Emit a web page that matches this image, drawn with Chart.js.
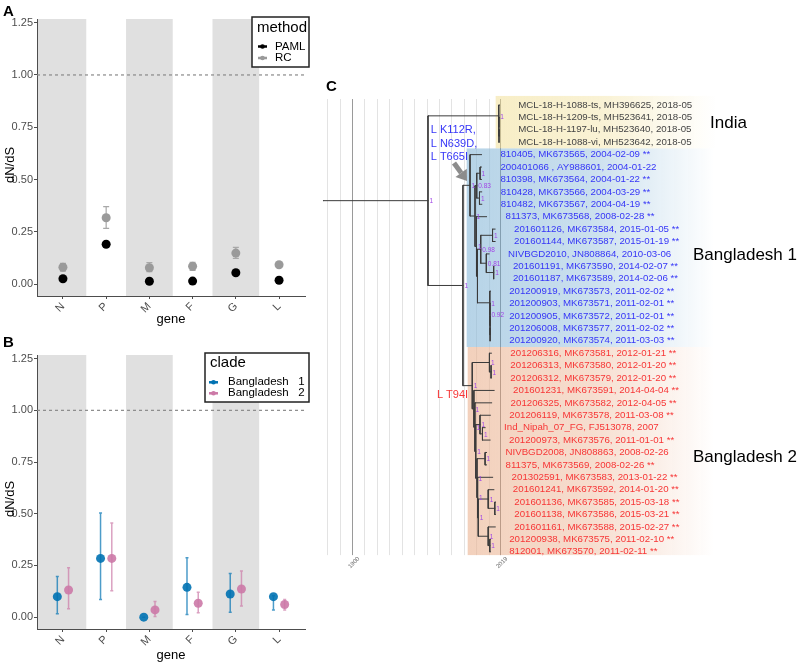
<!DOCTYPE html>
<html><head><meta charset="utf-8">
<script src="https://cdn.jsdelivr.net/npm/chart.js@4.4.1/dist/chart.umd.min.js"></script>
<style>
body{margin:0;width:799px;height:663px;background:#fff;position:relative;overflow:hidden;font-family:"Liberation Sans",Arial,sans-serif;}
.box{position:absolute;}
.plab{position:absolute;font-weight:bold;font-size:15px;color:#000;line-height:16px;}
</style></head><body>
<div class="box" style="left:0;top:0;width:320px;height:330px"><canvas id="cA" width="320" height="330"></canvas></div>
<div class="box" style="left:0;top:330px;width:320px;height:333px"><canvas id="cB" width="320" height="333"></canvas></div>
<div class="box" style="left:320px;top:60px;width:479px;height:603px"><canvas id="cC" width="479" height="603"></canvas></div>
<div class="plab" style="left:3px;top:3px">A</div>
<div class="plab" style="left:3px;top:334px">B</div>
<div class="plab" style="left:326px;top:78px">C</div>
<script>
Chart.defaults.font.family = "'Liberation Sans', Arial, sans-serif";
Chart.defaults.animation = false;
const FONT = "'Liberation Sans', Arial, sans-serif";

// ---------- Panels A & B data ----------
const genes = ["N","P","M","F","G","L"];
const yTicks = [0, 0.25, 0.5, 0.75, 1.0, 1.25];
const refLine = 1.0;
const pamlVal = [0.025, 0.190, 0.013, 0.014, 0.054, 0.018];
const rcVal   = [0.080, 0.317, 0.078, 0.085, 0.148, 0.092];
const rcLow   = [0.062, 0.266, 0.059, 0.065, 0.123, 0.086];
const rcHigh  = [0.099, 0.370, 0.102, 0.104, 0.175, 0.098];
const bd1Val  = [0.099, 0.284, 0.000, 0.144, 0.112, 0.099];
const bd1Low  = [0.016, 0.085, 0.000, 0.013, 0.024, 0.035];
const bd1High = [0.197, 0.503, 0.000, 0.287, 0.211, 0.104];
const bd2Val  = [0.131, 0.284, 0.035, 0.067, 0.136, 0.061];
const bd2Low  = [0.040, 0.128, 0.003, 0.021, 0.054, 0.035];
const bd2High = [0.239, 0.455, 0.075, 0.120, 0.223, 0.085];
const dodge = 0.13;
const bandHalf = 0.54;

function pts(vals, off){ return vals.map((v,i)=>({x:i+1+off, y:v})); }

function geneScales(){
  return {
    x:{type:'linear', min:0.4, max:6.6,
      afterBuildTicks:s=>{ s.ticks = genes.map((g,i)=>({value:i+1})); },
      afterFit:s=>{ s.height = 34; },
      ticks:{callback:v=>genes[Math.round(v)-1]||'', minRotation:45, maxRotation:45, autoSkip:false,
             color:'#4d4d4d', font:{size:11}, padding:1},
      grid:{display:true, drawOnChartArea:false, drawTicks:true, tickLength:3, color:'#4d4d4d'},
      border:{display:true, color:'#4d4d4d', width:1}},
    y:{type:'linear', min:-0.0574, max:1.2677,
      afterBuildTicks:s=>{ s.ticks = yTicks.map(v=>({value:v})); },
      afterFit:s=>{ s.width = 37; },
      ticks:{callback:v=>Number(v).toFixed(2), color:'#4d4d4d', font:{size:11}, padding:1},
      grid:{display:true, drawOnChartArea:false, drawTicks:true, tickLength:3, color:'#4d4d4d'},
      border:{display:true, color:'#4d4d4d', width:1}}
  };
}

function genePlugin(lg){
  return {
    id:'genePanel',
    beforeDraw(chart){
      const {ctx, chartArea:ca, scales:{x}} = chart;
      ctx.save(); ctx.fillStyle = '#e0e0e0';
      genes.forEach((g,i)=>{
        if (i % 2) return;
        let l = x.getPixelForValue(i+1-bandHalf), r = x.getPixelForValue(i+1+bandHalf);
        if (i === 0) l = ca.left;
        l = Math.max(l, ca.left); r = Math.min(r, ca.right);
        ctx.fillRect(l, ca.top, r-l, ca.bottom-ca.top);
      });
      ctx.restore();
    },
    beforeDatasetsDraw(chart){
      const {ctx, chartArea:ca, scales:{y}} = chart;
      ctx.save();
      const yy = y.getPixelForValue(refLine);
      ctx.strokeStyle = '#8a8a8a'; ctx.lineWidth = 1.2; ctx.setLineDash([3,3]);
      ctx.beginPath(); ctx.moveTo(ca.left, yy); ctx.lineTo(ca.right, yy); ctx.stroke();
      ctx.setLineDash([]);
      chart.data.datasets.forEach((ds, di)=>{
        if (!ds.errLow) return;
        const meta = chart.getDatasetMeta(di);
        ctx.strokeStyle = ds.errColor; ctx.lineWidth = ds.errWidth;
        meta.data.forEach((pt, i)=>{
          const lo = y.getPixelForValue(ds.errLow[i]), hi = y.getPixelForValue(ds.errHigh[i]);
          ctx.beginPath();
          ctx.moveTo(pt.x, lo); ctx.lineTo(pt.x, hi);
          ctx.moveTo(pt.x-ds.capW, lo); ctx.lineTo(pt.x+ds.capW, lo);
          ctx.moveTo(pt.x-ds.capW, hi); ctx.lineTo(pt.x+ds.capW, hi);
          ctx.stroke();
        });
      });
      ctx.restore();
    },
    afterDraw(chart){
      const {ctx, chartArea:ca} = chart;
      ctx.save();
      ctx.fillStyle = '#000';
      ctx.font = '13px ' + FONT;
      ctx.textAlign = 'center'; ctx.textBaseline = 'alphabetic';
      ctx.fillText('gene', (ca.left+ca.right)/2, lg.geneY);
      ctx.save();
      ctx.translate(14, lg.dnY); ctx.rotate(-Math.PI/2);
      ctx.textBaseline = 'alphabetic';
      ctx.fillText('dN/dS', 0, 0);
      ctx.restore();
      // legend box
      ctx.fillStyle = '#fff';
      ctx.fillRect(lg.x, lg.y, lg.w, lg.h);
      ctx.strokeStyle = '#222'; ctx.lineWidth = 1.5;
      ctx.strokeRect(lg.x, lg.y, lg.w, lg.h);
      ctx.fillStyle = '#000'; ctx.textAlign = 'left'; ctx.textBaseline = 'middle';
      ctx.font = '15px ' + FONT;
      ctx.fillText(lg.title, lg.x+5, lg.titleY);
      ctx.font = '11.5px ' + FONT;
      lg.items.forEach((it, k)=>{
        const yy = lg.itemY[k];
        ctx.strokeStyle = it.color; ctx.fillStyle = it.color; ctx.lineWidth = 2.5;
        ctx.beginPath(); ctx.moveTo(lg.keyX, yy); ctx.lineTo(lg.keyX+9, yy); ctx.stroke();
        ctx.beginPath(); ctx.arc(lg.keyX+4.5, yy, 2.3, 0, Math.PI*2); ctx.fill();
        ctx.fillStyle = '#000';
        ctx.fillText(it.label, lg.textX, yy);
      });
      ctx.restore();
    }
  };
}

const baseOpts = {responsive:false, animation:false, events:[],
  plugins:{legend:{display:false}, tooltip:{enabled:false}}};

new Chart(document.getElementById('cA'), {
  type:'scatter',
  data:{datasets:[
    {label:'RC', data:pts(rcVal,0), backgroundColor:'#9a9a9a', pointRadius:4.5, pointBorderWidth:0,
     errLow:rcLow, errHigh:rcHigh, errColor:'#a8a8a8', errWidth:1.2, capW:3},
    {label:'PAML', data:pts(pamlVal,0), backgroundColor:'#000', pointRadius:4.5, pointBorderWidth:0}
  ]},
  options:Object.assign({}, baseOpts, {layout:{padding:{top:19, right:15, left:0, bottom:0}}, scales:geneScales()}),
  plugins:[genePlugin({x:252, y:17, w:57, h:50, title:'method', titleY:28, itemY:[46.5,58],
    keyX:258, textX:275, geneY:323, dnY:165,
    items:[{label:'PAML', color:'#000'}, {label:'RC', color:'#9a9a9a'}]})]
});

new Chart(document.getElementById('cB'), {
  type:'scatter',
  data:{datasets:[
    {label:'Bangladesh 1', data:pts(bd1Val,-dodge), backgroundColor:'rgba(0,114,178,0.9)', pointRadius:4.5, pointBorderWidth:0,
     errLow:bd1Low, errHigh:bd1High, errColor:'rgba(0,114,178,0.7)', errWidth:1.5, capW:1.5},
    {label:'Bangladesh 2', data:pts(bd2Val,dodge), backgroundColor:'rgba(204,121,167,0.9)', pointRadius:4.5, pointBorderWidth:0,
     errLow:bd2Low, errHigh:bd2High, errColor:'rgba(204,121,167,0.7)', errWidth:1.5, capW:1.5}
  ]},
  options:Object.assign({}, baseOpts, {layout:{padding:{top:25, right:15, left:0, bottom:0}}, scales:geneScales()}),
  plugins:[genePlugin({x:205, y:23, w:104, h:49, title:'clade', titleY:33, itemY:[52.3,63.3],
    keyX:209, textX:228, geneY:329, dnY:169,
    items:[{label:'Bangladesh   1', color:'#0072B2'}, {label:'Bangladesh   2', color:'#CC79A7'}]})]
});
</script>
<script>
// ---------- Panel C: time tree ----------
const tipLabels = [
"MCL-18-H-1088-ts, MH396625, 2018-05",
"MCL-18-H-1209-ts, MH523641, 2018-05",
"MCL-18-H-1197-lu, MH523640, 2018-05",
"MCL-18-H-1088-vi, MH523642, 2018-05",
"810405, MK673565, 2004-02-09 **",
"200401066 , AY988601, 2004-01-22",
"810398, MK673564, 2004-01-22 **",
"810428, MK673566, 2004-03-29 **",
"810482, MK673567, 2004-04-19 **",
"811373, MK673568, 2008-02-28 **",
"201601126, MK673584, 2015-01-05 **",
"201601144, MK673587, 2015-01-19 **",
"NIVBGD2010, JN808864, 2010-03-06",
"201601191, MK673590, 2014-02-07 **",
"201601187, MK673589, 2014-02-06 **",
"201200919, MK673573, 2011-02-02 **",
"201200903, MK673571, 2011-02-01 **",
"201200905, MK673572, 2011-02-01 **",
"201206008, MK673577, 2011-02-02 **",
"201200920, MK673574, 2011-03-03 **",
"201206316, MK673581, 2012-01-21 **",
"201206313, MK673580, 2012-01-20 **",
"201206312, MK673579, 2012-01-20 **",
"201601231, MK673591, 2014-04-04 **",
"201206325, MK673582, 2012-04-05 **",
"201206119, MK673578, 2011-03-08 **",
"Ind_Nipah_07_FG, FJ513078, 2007",
"201200973, MK673576, 2011-01-01 **",
"NIVBGD2008, JN808863, 2008-02-26",
"811375, MK673569, 2008-02-26 **",
"201302591, MK673583, 2013-01-22 **",
"201601241, MK673592, 2014-01-20 **",
"201601136, MK673585, 2015-03-18 **",
"201601138, MK673586, 2015-03-21 **",
"201601161, MK673588, 2015-02-27 **",
"201200938, MK673575, 2011-02-10 **",
"812001, MK673570, 2011-02-11 **"
];
const tipParent = ["india","india2","india3","india3",
 "b1","b6_7","b6_7","b8_9","b8_9","b1y","b11_12","b11_12","b13_15","b14_15","b14_15",
 "b16_20","b17_20","b18_20","b19_20","b19_20",
 "b21_23","b22_23","b22_23","L1","L2","b26","b27_28","b27_28","b29_30","b29_30","L5",
 "b32_34","b33_34","b33_34","b35_37","b36_37","b36_37"];
const nodeName   = ["root","india","india2","india3","bgd","b1","b1x","b6_9","b6_7","b8_9",
 "b1y","b1z","b11_15","b11_12","b13_15","b14_15","b16_20","b17_20","b18_20","b19_20",
 "b2","b21_23","b22_23","L1","L2","L3","b26","b27_28","L4","b29_30",
 "L5","L6","b32_34","b33_34","b35_37","b36_37"];
const nodeParent = [null,"root","india","india2","root","bgd","b1","b1x","b6_9","b6_9",
 "b1x","b1y","b1z","b11_15","b11_15","b13_15","b1z","b16_20","b17_20","b18_20",
 "bgd","b2","b21_23","b2","L1","L2","L3","b26","L3","L4",
 "L4","L5","L6","b32_34","L6","b35_37"];
const nodeYear   = [1961.1,2018.0,2018.1,2018.2,1989.2,1994.9,1998.9,2000.3,2003.0,2002.5,
 2000.1,2000.9,2003.5,2013.0,2008.0,2013.9,2010.8,2010.9,2011.0,2011.05,
 1996.7,2010.5,2011.8,1998.0,1998.8,1999.5,2002.9,2004.9,2000.5,2007.0,
 2001.0,2001.5,2009.5,2014.8,2009.5,2010.8];
const nodeSupport= ["1","1","","","1","1","1","0.83","1","1",
 "1","","0.98","1","0.81","1","1","0.92","","",
 "1","1","1","1","1","1","1","1","1","1",
 "1","1","1","1","1","1"];
const rootEdgeYear = 1876.7;
const groupNames = ["India","Bangladesh 1","Bangladesh 2"];
const groupFirstTip = [0, 4, 20];
const groupLastTip  = [3, 19, 36];
const groupTextColor = ["#454545","#3636f7","#f73636"];
const groupFill = [[243,227,163],[138,185,217],[235,180,147]];
const groupStartYear = [2015.5, 1992.2, 1993.0];
const gridYears = [1880,1890,1900,1910,1920,1930,1940,1950,1960,1970,1980,1990,2000,2010];
const axisYears = [1900, 2019];
const mutBlue = ["L K112R,","L N639D,","L T665I"];
const mutRed  = ["L T94I"];

function tipYearOf(lbl){
  const parts = lbl.replace(' **','').split(',');
  const d = parts[parts.length-1].trim().split('-').map(Number);
  let y = d[0];
  if (d.length > 1) y += (d[1]-1)/12;
  if (d.length > 2) y += (d[2]-1)/365; else if (d.length === 2) y += 0.04;
  return y;
}
const tipYear = tipLabels.map(tipYearOf);

const idx = {}; nodeName.forEach((n,i)=>idx[n]=i);
const kids = nodeName.map(()=>[]);
tipParent.forEach((p,i)=>kids[idx[p]].push({tip:i}));
nodeParent.forEach((p,i)=>{ if (p) kids[idx[p]].push({node:i}); });
const nodeY = new Array(nodeName.length);
function yOfNode(i){
  if (nodeY[i] !== undefined) return nodeY[i];
  const ys = kids[i].map(c=>c.tip!==undefined ? c.tip : yOfNode(c.node));
  nodeY[i] = ys.reduce((a,b)=>a+b,0)/ys.length;
  return nodeY[i];
}
nodeName.forEach((n,i)=>yOfNode(i));

const segs = [];
tipParent.forEach((p,i)=>segs.push([nodeYear[idx[p]], i, tipYear[i], i]));
nodeName.forEach((n,i)=>{
  const px = nodeParent[i] ? nodeYear[idx[nodeParent[i]]] : rootEdgeYear;
  segs.push([px, nodeY[i], nodeYear[i], nodeY[i]]);
  const ys = kids[i].map(c=>c.tip!==undefined ? c.tip : nodeY[c.node]);
  segs.push([nodeYear[i], Math.min(...ys), nodeYear[i], Math.max(...ys)]);
});
const treeData = [];
segs.forEach(s=>{ treeData.push({x:s[0],y:s[1]},{x:s[2],y:s[3]},{x:s[2],y:null}); });

// scale ranges so that 1900 / 2019 and tip rows land as in the figure
const pxPerYear = 1.244, xMin = 1874.3, xMax = xMin + 479/pxPerYear;
const pxPerTip = 12.41, yMin = -45/pxPerTip, yMax = yMin + 603/pxPerTip;

const treePlugin = {
  id:'tree',
  beforeDatasetsDraw(chart){
    const {ctx, scales:{x,y}} = chart;
    ctx.save();
    const gTop = y.getPixelForValue(-0.48), gBot = y.getPixelForValue(36.27);
    ctx.lineWidth = 1;
    gridYears.forEach(yr=>{
      const px = Math.round(x.getPixelForValue(yr))+0.5;
      ctx.strokeStyle = yr === 1900 ? '#9a9a9a' : '#e3e3e3';
      ctx.beginPath(); ctx.moveTo(px,gTop); ctx.lineTo(px,gBot); ctx.stroke();
    });
    const p19 = Math.round(x.getPixelForValue(2019))+0.5;
    ctx.strokeStyle = '#7a7a7a';
    ctx.beginPath(); ctx.moveTo(p19,gTop); ctx.lineTo(p19,gBot); ctx.stroke();
    // clade highlights
    groupNames.forEach((g,k)=>{
      const l = x.getPixelForValue(groupStartYear[k]);
      const t = y.getPixelForValue(k===0 ? -0.73 : groupFirstTip[k]-0.5);
      const b = y.getPixelForValue(k===2 ? 36.27 : groupLastTip[k]+0.5);
      const c = groupFill[k];
      const gr = ctx.createLinearGradient(l,0,395,0);
      gr.addColorStop(0, `rgba(${c},0.62)`);
      gr.addColorStop(0.5, `rgba(${c},0.45)`);
      gr.addColorStop(1, `rgba(${c},0)`);
      ctx.fillStyle = gr;
      ctx.fillRect(l, t, 400-l, b-t);
    });
    ctx.restore();
  },
  afterDatasetsDraw(chart){
    const {ctx, scales:{x,y}} = chart;
    ctx.save();
    // support values
    ctx.font = '6.5px ' + FONT; ctx.fillStyle = '#a045e6';
    ctx.textAlign = 'left'; ctx.textBaseline = 'middle';
    nodeName.forEach((n,i)=>{
      if (!nodeSupport[i]) return;
      ctx.fillText(nodeSupport[i], x.getPixelForValue(nodeYear[i])+1.5, y.getPixelForValue(nodeY[i])+1);
    });
    // tip labels
    ctx.font = '9.7px ' + FONT;
    tipLabels.forEach((lb,i)=>{
      const g = i <= groupLastTip[0] ? 0 : (i <= groupLastTip[1] ? 1 : 2);
      ctx.fillStyle = groupTextColor[g];
      ctx.fillText(lb, x.getPixelForValue(tipYear[i])+19, y.getPixelForValue(i));
    });
    // group labels
    ctx.font = '17px ' + FONT; ctx.fillStyle = '#000';
    ctx.fillText(groupNames[0], 390, y.getPixelForValue(1.5));
    ctx.fillText(groupNames[1], 373, y.getPixelForValue(12.1));
    ctx.fillText(groupNames[2], 373, y.getPixelForValue(28.4));
    // mutation annotations
    ctx.font = '11px ' + FONT;
    ctx.fillStyle = '#3636f7';
    mutBlue.forEach((m,k)=>ctx.fillText(m, x.getPixelForValue(1963.3), y.getPixelForValue(2.0+k*1.1)));
    ctx.fillStyle = '#f73636';
    mutRed.forEach(m=>ctx.fillText(m, x.getPixelForValue(1968.3), y.getPixelForValue(23.37)));
    // arrow
    const ax0 = 134, ay0 = 103, ax1 = 147, ay1 = 121;
    const ang = Math.atan2(ay1-ay0, ax1-ax0);
    ctx.strokeStyle = '#8c8c8c'; ctx.fillStyle = '#8c8c8c'; ctx.lineWidth = 5;
    const hx = ax1 - 10*Math.cos(ang), hy = ay1 - 10*Math.sin(ang);
    ctx.beginPath(); ctx.moveTo(ax0,ay0); ctx.lineTo(hx,hy); ctx.stroke();
    ctx.beginPath(); ctx.moveTo(ax1,ay1);
    ctx.lineTo(hx + 7*Math.sin(ang), hy - 7*Math.cos(ang));
    ctx.lineTo(hx - 7*Math.sin(ang), hy + 7*Math.cos(ang));
    ctx.closePath(); ctx.fill();
    // time axis labels
    ctx.font = '6px ' + FONT; ctx.fillStyle = '#666'; ctx.textAlign = 'center';
    axisYears.forEach(yr=>{
      ctx.save();
      ctx.translate(x.getPixelForValue(yr)+2, y.getPixelForValue(36.27)+7.5);
      ctx.rotate(-Math.PI/4);
      ctx.fillText(String(yr), 0, 0);
      ctx.restore();
    });
    ctx.restore();
  }
};

new Chart(document.getElementById('cC'), {
  type:'scatter',
  data:{datasets:[{data:treeData, showLine:true, borderColor:'#3b3b3b', borderWidth:1, pointRadius:0,
    pointHoverRadius:0, spanGaps:false, borderCapStyle:'square'}]},
  options:{responsive:false, animation:false, events:[], layout:{padding:0},
    plugins:{legend:{display:false}, tooltip:{enabled:false}},
    scales:{x:{type:'linear', display:false, min:xMin, max:xMax},
            y:{type:'linear', display:false, reverse:true, min:yMin, max:yMax}}},
  plugins:[treePlugin]
});
</script>
</body></html>
